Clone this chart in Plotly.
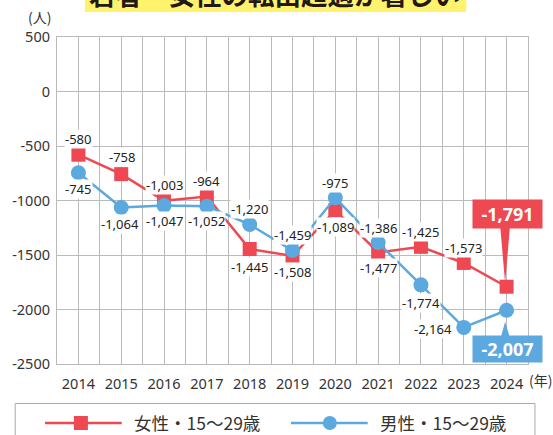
import plotly.graph_objects as go

# ---------------- data ----------------
years = [2014, 2015, 2016, 2017, 2018, 2019, 2020, 2021, 2022, 2023, 2024]
female = [-580, -758, -1003, -964, -1445, -1508, -1089, -1477, -1425, -1573, -1791]
male = [-745, -1064, -1047, -1052, -1220, -1459, -975, -1386, -1774, -2164, -2007]
x_tick_labels = ["2014", "2015", "2016", "2017", "2018", "2019", "2020", "2021", "2022", "2023", "2024"]
y_tick_values = [500, 0, -500, -1000, -1500, -2000, -2500]
y_tick_labels = ["500", "0", "-500", "-1000", "-1500", "-2000", "-2500"]
female_name = "女性・15～29歳"
male_name = "男性・15～29歳"
title_text = "若者・女性の転出超過が著しい"
y_unit = "(人)"
x_unit = "(年)"

# ---------------- styles ----------------
RED = "#EE4852"
BLUE = "#5BA9DE"
GRID = "#BBBBBB"
TXT = "#222222"
NUM_FONT = "Noto Sans, DejaVu Sans, sans-serif"
CJK_FONT = "Noto Sans CJK JP, sans-serif"

# label offsets in px: (xanchor, dx, dy_down)
f_off = [("center", 0, -16), ("center", 1, -17), ("center", 0, -16), ("center", 0, -16),
         ("center", 0, 18), ("center", 0, 16), ("center", 0, 17), ("center", 0, 16),
         ("center", 0, -15), ("center", 0, -15), None]
m_off = [("center", 0, 16), ("center", -1, 17), ("center", 0, 15), ("center", 0, 15),
         ("center", 0, -15), ("center", 0, -16), ("center", 0, -15), ("center", 0, -15),
         ("center", 0, 18), ("right", -11, 2), None]

fig = go.Figure()
fig.add_trace(go.Scatter(x=years, y=female, mode="lines+markers", name=female_name,
                         line=dict(color=RED, width=2.5),
                         marker=dict(symbol="square", size=14, color=RED),
                         showlegend=False, cliponaxis=False))
fig.add_trace(go.Scatter(x=years, y=male, mode="lines+markers", name=male_name,
                         line=dict(color=BLUE, width=2.5),
                         marker=dict(symbol="circle", size=15, color=BLUE),
                         showlegend=False, cliponaxis=False))

annotations = []
for vals, offs in ((female, f_off), (male, m_off)):
    for yr, v, off in zip(years, vals, offs):
        if off is None:
            continue
        anc, dx, dy = off
        annotations.append(dict(x=yr, y=v, xref="x", yref="y", text=f"{v:,}",
                                showarrow=False, xanchor=anc, yanchor="middle",
                                xshift=dx, yshift=-dy, bgcolor="white", borderpad=0,
                                font=dict(family=NUM_FONT, size=13, color=TXT)))

# call-out boxes for the last year
annotations.append(dict(x=years[-1], y=female[-1], xref="x", yref="y", text=f"{female[-1]:,}",
                        showarrow=False, xanchor="center", yanchor="middle",
                        xshift=0.5, yshift=72.7, width=69, height=28, bgcolor=RED, borderpad=0,
                        font=dict(family=NUM_FONT, size=18, color="white", weight="bold")))
annotations.append(dict(x=years[-1], y=male[-1], xref="x", yref="y", text=f"{male[-1]:,}",
                        showarrow=False, xanchor="center", yanchor="middle",
                        xshift=0.5, yshift=-38.7, width=69, height=26, bgcolor=BLUE, borderpad=0,
                        font=dict(family=NUM_FONT, size=18, color="white", weight="bold")))

# axis unit labels
annotations.append(dict(x=-0.038, y=(364 - 17) / 327, xref="paper", yref="paper", text=y_unit,
                        showarrow=False, xanchor="center", yanchor="middle",
                        font=dict(family=CJK_FONT, size=14, color="#333333")))
annotations.append(dict(x=(541 - 55) / 473, y=(364 - 380) / 327, xref="paper", yref="paper",
                        text=x_unit, showarrow=False, xanchor="center", yanchor="middle",
                        font=dict(family=CJK_FONT, size=14, color="#333333")))

# title (cut off at top of page)
annotations.append(dict(x=0.462, y=(364 + 7) / 327, xref="paper", yref="paper", text=title_text,
                        showarrow=False, xanchor="center", yanchor="middle",
                        font=dict(family=CJK_FONT, size=26.5, color="#231815", weight="bold")))

# legend texts
leg_y = (364 - 423) / 327
annotations.append(dict(x=(130 - 55) / 473, y=leg_y, xref="paper", yref="paper", text=female_name,
                        showarrow=False, xanchor="left", yanchor="middle",
                        font=dict(family=CJK_FONT, size=17.5, color="#333333")))
annotations.append(dict(x=(377 - 55) / 473, y=leg_y, xref="paper", yref="paper", text=male_name,
                        showarrow=False, xanchor="left", yanchor="middle",
                        font=dict(family=CJK_FONT, size=17.5, color="#333333")))

shapes = [
    # title band
    dict(type="rect", xref="paper", yref="paper", x0=(83 - 55) / 473, x1=(466 - 55) / 473,
         y0=(364 - 12) / 327, y1=(364 + 20) / 327, fillcolor="#FFF36E", line=dict(width=0),
         layer="below"),
    # call-out pointers
    dict(type="path", xref="x", yref="y", xsizemode="pixel", ysizemode="pixel",
         xanchor=years[-1], yanchor=female[-1], path="M -6.5,62 L 3.5,62 L -1.5,3.7 Z",
         fillcolor=RED, line=dict(width=0)),
    dict(type="path", xref="x", yref="y", xsizemode="pixel", ysizemode="pixel",
         xanchor=years[-1], yanchor=male[-1], path="M -6,-28 L 3.5,-28 L -1.5,-11.4 Z",
         fillcolor=BLUE, line=dict(width=0)),
    # legend frame
    dict(type="rect", xref="paper", yref="paper", x0=(13 - 55) / 473, x1=(535 - 55) / 473,
         y0=(364 - 445) / 327, y1=(364 - 403.5) / 327, line=dict(color="#AAAAAA", width=1),
         fillcolor="rgba(0,0,0,0)"),
    # legend symbols
    dict(type="line", xref="paper", yref="paper", x0=(43 - 55) / 473, x1=(120 - 55) / 473,
         y0=leg_y, y1=leg_y, line=dict(color=RED, width=2.5)),
    dict(type="rect", xref="paper", yref="paper", xsizemode="pixel", ysizemode="pixel",
         xanchor=(79 - 55) / 473, yanchor=leg_y, x0=-7, x1=7, y0=-7, y1=7,
         fillcolor=RED, line=dict(width=0)),
    dict(type="line", xref="paper", yref="paper", x0=(290 - 55) / 473, x1=(367 - 55) / 473,
         y0=leg_y, y1=leg_y, line=dict(color=BLUE, width=2.5)),
    dict(type="circle", xref="paper", yref="paper", xsizemode="pixel", ysizemode="pixel",
         xanchor=(329 - 55) / 473, yanchor=leg_y, x0=-7, x1=7, y0=-7, y1=7,
         fillcolor=BLUE, line=dict(width=0)),
]

fig.update_layout(
    width=553, height=435, autosize=False,
    margin=dict(l=55, r=25, t=37, b=71, pad=0),
    paper_bgcolor="white", plot_bgcolor="white",
    showlegend=False,
    annotations=annotations, shapes=shapes,
    xaxis=dict(range=[2013.5, 2024.5], tickmode="array", tickvals=years, ticktext=x_tick_labels,
               showgrid=True, gridcolor=GRID, gridwidth=1.2,
               minor=dict(tickmode="linear", tick0=2013.5, dtick=0.5, showgrid=True,
                          gridcolor=GRID, gridwidth=1.2),
               showline=True, mirror=True, linecolor=GRID, linewidth=1.2,
               zeroline=False, ticks="", ticklabelstandoff=6,
               tickfont=dict(family=NUM_FONT, size=14.5, color="#333333"), fixedrange=True),
    yaxis=dict(range=[-2500, 500], tickmode="array", tickvals=y_tick_values, ticktext=y_tick_labels,
               showgrid=True, gridcolor=GRID, gridwidth=1.2,
               showline=True, mirror=True, linecolor=GRID, linewidth=1.2,
               zeroline=False, ticks="", ticklabelstandoff=3,
               tickfont=dict(family=NUM_FONT, size=14.5, color="#333333"), fixedrange=True),
)

fig.write_html("out.html", config={"displayModeBar": False},
               post_script="document.body.style.margin='0';document.body.style.overflow='hidden';")
